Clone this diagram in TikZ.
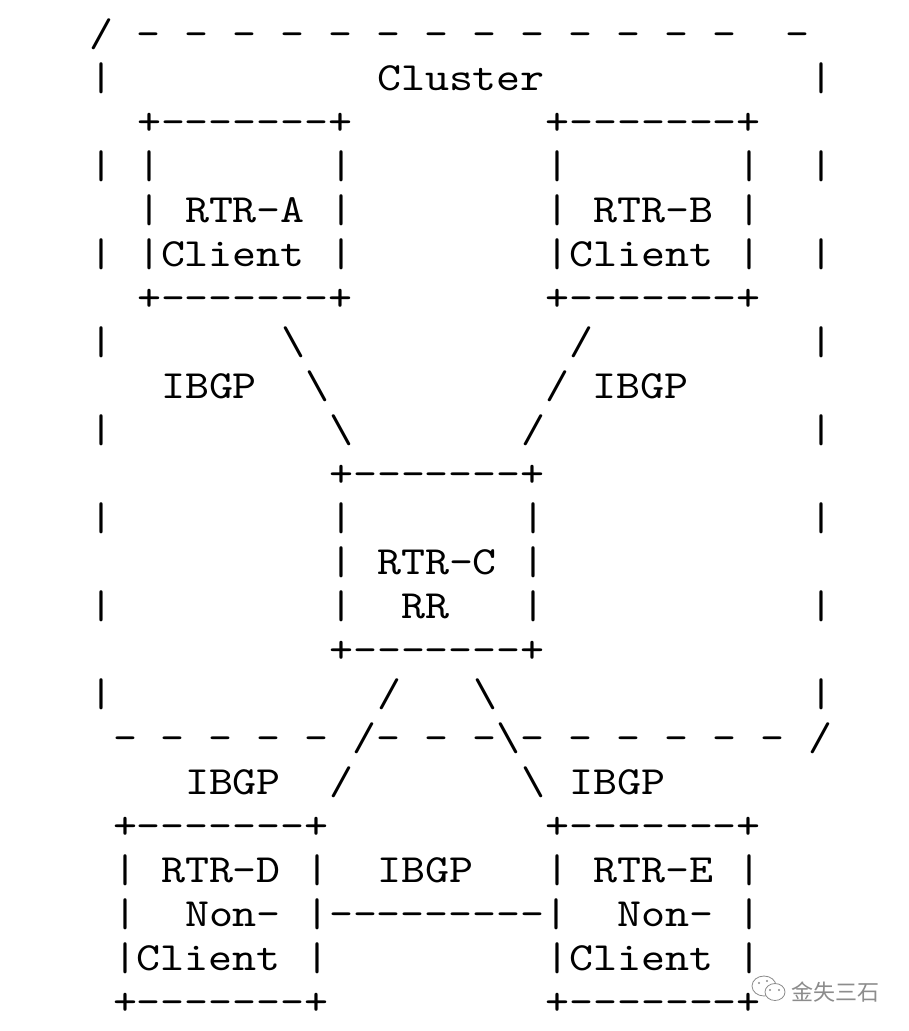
\documentclass[tikz,border=0pt]{standalone}
\usepackage{fontspec}
\setmonofont{lmmono10-regular.otf}[FakeStretch=1.1428]
\newfontfamily\cjk{Noto Sans CJK SC}
\definecolor{wmgray}{RGB}{140,140,140}
\newcommand\seg[4]{\node[ascii] (#1) at ({89+24*#2},{-(46.5+44*(#3-1))}) {#4};}
\newcommand\bs{\textbackslash}
\tikzset{
  ascii/.style={anchor=base west, inner sep=0pt, outer sep=0pt,
    font=\ttfamily\fontsize{40}{44}\selectfont, text=black},
  wm/.style={draw=wmgray, line width=0.8pt}
}
\begin{document}
\begin{tikzpicture}[x=1pt,y=1pt]
\useasboundingbox (0,0) rectangle (909,-1031);
\fill[white] (0,0) rectangle (909,-1031);
% row 1-2 : cluster top
\seg{clTop}{0}{1}{/ - - - - - - - - - - - - -}
\seg{clTopEnd}{29}{1}{-}
\seg{clL2}{0}{2}{|}
\seg{clName}{12}{2}{Cluster}
\seg{clR2}{30}{2}{|}
% row 3: tops of A and B
\seg{aTop}{2}{3}{+-------+}
\seg{bTop}{19}{3}{+-------+}
% row 4
\seg{clL4}{0}{4}{|}
\seg{aL4}{2}{4}{|}
\seg{aR4}{10}{4}{|}
\seg{bL4}{19}{4}{|}
\seg{bR4}{27}{4}{|}
\seg{clR4}{30}{4}{|}
% row 5
\seg{aL5}{2}{5}{|}
\seg{aName}{4}{5}{RTR-A}
\seg{aR5}{10}{5}{|}
\seg{bL5}{19}{5}{|}
\seg{bName}{21}{5}{RTR-B}
\seg{bR5}{27}{5}{|}
% row 6
\seg{clL6}{0}{6}{|}
\seg{aRole}{2}{6}{|Client}
\seg{aR6}{10}{6}{|}
\seg{bRole}{19}{6}{|Client}
\seg{bR6}{27}{6}{|}
\seg{clR6}{30}{6}{|}
% row 7
\seg{aBot}{2}{7}{+-------+}
\seg{bBot}{19}{7}{+-------+}
% rows 8-10: links A-C, B-C
\seg{clL8}{0}{8}{|}
\seg{acA}{8}{8}{\bs}
\seg{bcA}{20}{8}{/}
\seg{clR8}{30}{8}{|}
\seg{acLbl}{3}{9}{IBGP}
\seg{acB}{9}{9}{\bs}
\seg{bcB}{19}{9}{/ IBGP}
\seg{clL10}{0}{10}{|}
\seg{acC}{10}{10}{\bs}
\seg{bcC}{18}{10}{/}
\seg{clR10}{30}{10}{|}
% rows 11-15: RTR-C
\seg{cTop}{10}{11}{+-------+}
\seg{clL12}{0}{12}{|}
\seg{cL12}{10}{12}{|}
\seg{cR12}{18}{12}{|}
\seg{clR12}{30}{12}{|}
\seg{cL13}{10}{13}{|}
\seg{cName}{12}{13}{RTR-C}
\seg{cR13}{18}{13}{|}
\seg{clL14}{0}{14}{|}
\seg{cL14}{10}{14}{|}
\seg{cRole}{13}{14}{RR}
\seg{cR14}{18}{14}{|}
\seg{clR14}{30}{14}{|}
\seg{cBot}{10}{15}{+-------+}
% row 16-18: links C-D, C-E and cluster bottom
\seg{clL16}{0}{16}{|}
\seg{cdA}{12}{16}{/}
\seg{ceA}{16}{16}{\bs}
\seg{clR16}{30}{16}{|}
\seg{clBot}{1}{17}{- - - - - /- - -\bs- - - - - - /}
\seg{cdLbl}{4}{18}{IBGP}
\seg{cdC}{10}{18}{/}
\seg{ceC}{18}{18}{\bs}
\seg{ceLbl}{20}{18}{IBGP}
% rows 19-23: RTR-D and RTR-E
\seg{dTop}{1}{19}{+-------+}
\seg{eTop}{19}{19}{+-------+}
\seg{dL20}{1}{20}{|}
\seg{dName}{3}{20}{RTR-D}
\seg{dR20}{9}{20}{|}
\seg{deLbl}{12}{20}{IBGP}
\seg{eL20}{19}{20}{|}
\seg{eName}{21}{20}{RTR-E}
\seg{eR20}{27}{20}{|}
\seg{dL21}{1}{21}{|}
\seg{dRole}{4}{21}{Non-}
\seg{deLink}{9}{21}{|---------|}
\seg{eRole}{22}{21}{Non-}
\seg{eR21}{27}{21}{|}
\seg{dRole2}{1}{22}{|Client}
\seg{dR22}{9}{22}{|}
\seg{eRole2}{19}{22}{|Client}
\seg{eR22}{27}{22}{|}
\seg{dBot}{1}{23}{+-------+}
\seg{eBot}{19}{23}{+-------+}
% watermark
\draw[wm, fill=white] (764,-986) ellipse [x radius=12, y radius=10];
\draw[wm, fill=white] (775,-992) ellipse [x radius=10, y radius=8.5];
\fill[wmgray] (770,-990) circle (1.1) (779,-990) circle (1.1) (759,-983) circle (1.1) (767,-981) circle (1.1);
\node[anchor=west, inner sep=0pt, text=wmgray, font=\cjk\fontsize{22}{24}\selectfont] (wmText) at (791,-992) {金失三石};
\end{tikzpicture}
\end{document}
